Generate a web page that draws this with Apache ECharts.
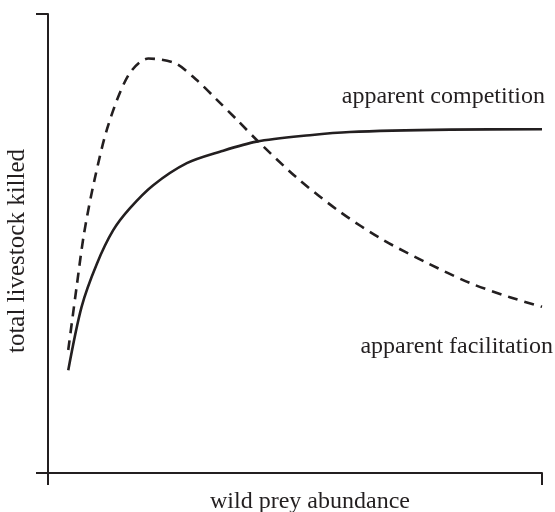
<!DOCTYPE html>
<html>
<head>
<meta charset="utf-8">
<script src="https://cdn.jsdelivr.net/npm/echarts@6/dist/echarts.min.js"></script>
<style>
    html, body { margin: 0; padding: 0; background: #fff; }
    #chart { width: 555px; height: 512px; }
</style>
</head>
<body>
<div id="chart"></div>
<script>
    // curve points, x = wild prey abundance, y = livestock killed (0-100 scale)
    var competitionX = [4.1, 6.8, 9.9, 13.2, 16.6, 21.3, 28.1, 34.8, 42.2, 53.0, 61.1, 81.4, 100];
    var competitionY = [22.4, 36.2, 45.6, 52.9, 57.7, 62.7, 67.5, 70.0, 72.2, 73.6, 74.3, 74.8, 74.9];
    var facilitationX = [4.1, 5.8, 7.3, 9.4, 12.2, 16.3, 20.3, 25.7, 30.1, 34.2, 38.3, 42.3, 50.4, 59.1, 67.8, 76.7, 85.4, 93.5, 100];
    var facilitationY = [26.8, 40.6, 52.2, 63.8, 75.8, 86.7, 90.3, 89.3, 85.6, 81.3, 76.9, 72.5, 64.3, 56.9, 50.8, 45.8, 41.4, 38.3, 36.2];

    function pairs(xs, ys) {
        return xs.map(function (x, i) { return [x, ys[i]]; });
    }

    var ink = '#231f20';
    var font = 'Liberation Serif';

    var myChart = echarts.init(document.getElementById('chart'));
    myChart.setOption({
        animation: false,
        grid: {
            left: 48,
            right: 13,
            top: 14,
            bottom: 39,
            containLabel: false,
            outerBoundsMode: 'none'
        },
        xAxis: {
            type: 'value',
            min: 0,
            max: 100,
            interval: 100,
            name: 'wild prey abundance',
            nameLocation: 'middle',
            nameGap: 17,
            nameTextStyle: { fontFamily: font, fontSize: 24, color: ink, padding: [0, 0, 0, 30] },
            axisLine: { lineStyle: { color: ink, width: 2 } },
            axisTick: { show: true, length: 12, lineStyle: { color: ink, width: 2 } },
            axisLabel: { show: false },
            splitLine: { show: false }
        },
        yAxis: {
            type: 'value',
            min: 0,
            max: 100,
            interval: 100,
            name: 'total livestock killed',
            nameLocation: 'middle',
            nameGap: 18,
            nameTextStyle: { fontFamily: font, fontSize: 25, color: ink, padding: [0, 15, 0, 0] },
            axisLine: { lineStyle: { color: ink, width: 2 } },
            axisTick: { show: true, length: 12, lineStyle: { color: ink, width: 2 } },
            axisLabel: { show: false },
            splitLine: { show: false }
        },
        series: [
            {
                name: 'apparent competition',
                type: 'line',
                data: pairs(competitionX, competitionY),
                smooth: 0.3,
                showSymbol: false,
                lineStyle: { color: ink, width: 2.6 },
                endLabel: {
                    show: true,
                    formatter: 'apparent competition',
                    fontFamily: font,
                    fontSize: 24,
                    color: ink,
                    align: 'right',
                    offset: [-5, -33]
                }
            },
            {
                name: 'apparent facilitation',
                type: 'line',
                data: pairs(facilitationX, facilitationY),
                smooth: 0.3,
                showSymbol: false,
                lineStyle: { color: ink, width: 2.6, type: [10, 7] },
                endLabel: {
                    show: true,
                    formatter: 'apparent facilitation',
                    fontFamily: font,
                    fontSize: 24,
                    color: ink,
                    align: 'right',
                    offset: [3, 40]
                }
            }
        ]
    });
</script>
</body>
</html>
